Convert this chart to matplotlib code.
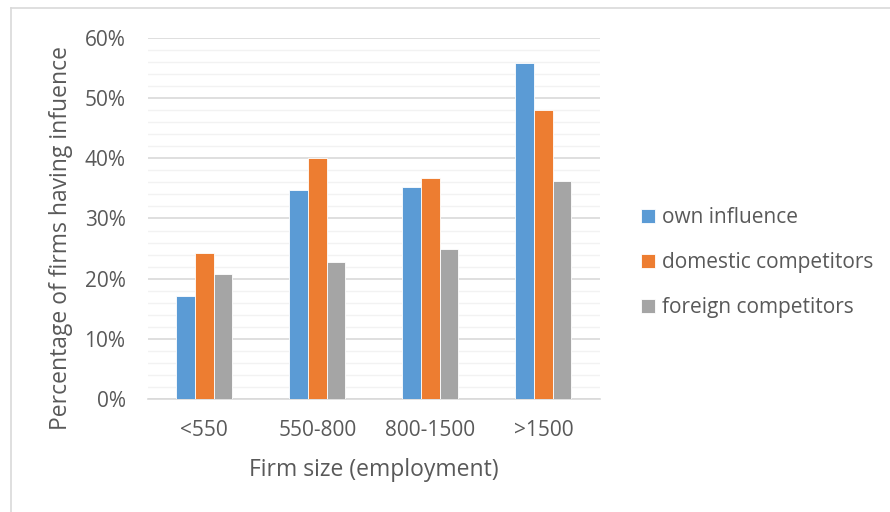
import numpy as np
import matplotlib.pyplot as plt
from matplotlib.lines import Line2D

categories = ['<550', '550-800', '800-1500', '>1500']
own_influence = [17.2, 34.8, 35.2, 55.8]
domestic = [24.3, 40.1, 36.8, 48.0]
foreign = [20.8, 22.7, 24.9, 36.2]
series_names = ['own influence', 'domestic competitors', 'foreign competitors']
colors = ['#5b9bd5', '#ed7d31', '#a5a5a5']

plt.rcParams['font.family'] = ['Open Sans', 'DejaVu Sans']
txt = '#595959'

fig = plt.figure(figsize=(8.9, 5.12), dpi=100)
ax = fig.add_axes([0.166, 0.2207, 0.508, 0.7051])

x = np.arange(len(categories))
w = 0.165
for i, vals in enumerate([own_influence, domestic, foreign]):
    ax.bar(x + (i - 1) * w, vals, w, color=colors[i], edgecolor='white',
           linewidth=0.6, label=series_names[i], zorder=3)

ax.set_xlim(-0.5, 3.5)
ax.set_ylim(0, 60)
ax.set_yticks(np.arange(0, 61, 10))
ax.set_yticks(np.arange(0, 61, 2), minor=True)
ax.set_yticklabels([f'{v}%' for v in range(0, 61, 10)])
ax.set_xticks(x)
ax.set_xticklabels(categories)
ax.grid(axis='y', which='major', color='#d9d9d9', linewidth=1.2, zorder=0)
ax.grid(axis='y', which='minor', color='#f2f2f2', linewidth=1.0, zorder=0)
ax.tick_params(axis='both', which='both', length=0, labelsize=15, colors=txt)
ax.tick_params(axis='x', pad=15)
ax.tick_params(axis='y', pad=16)
for s in ['top', 'right', 'left']:
    ax.spines[s].set_visible(False)
ax.spines['bottom'].set_color('#d9d9d9')
ax.spines['bottom'].set_linewidth(1.2)

ax.set_xlabel('Firm size (employment)', fontsize=16.5, color=txt, labelpad=12)
ax.set_ylabel('Percentage of firms having infuence', fontsize=16.5, color=txt)
ax.yaxis.set_label_coords(-0.166, 0.446)

ax.legend(loc='center left', bbox_to_anchor=(1.05, 0.377), frameon=False,
          fontsize=15, labelcolor=txt, handlelength=0.65, handleheight=0.65,
          handletextpad=0.35, labelspacing=1.15)

# chart border (cropped on the right and bottom)
fig.add_artist(Line2D([0.0118, 0.0118], [0, 0.9844], color='#d9d9d9', lw=1.2))
fig.add_artist(Line2D([0.0118, 1], [0.9844, 0.9844], color='#d9d9d9', lw=1.2))

fig.savefig('out.png', dpi=100)
